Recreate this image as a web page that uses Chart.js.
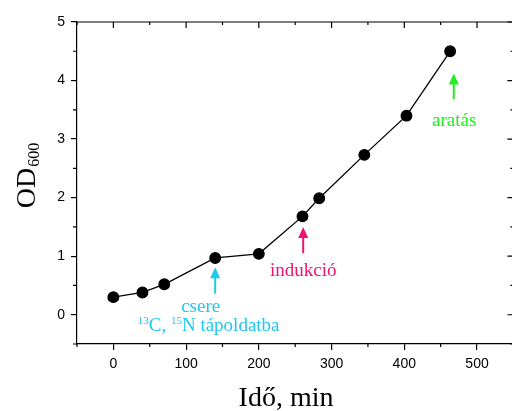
<!DOCTYPE html>
<html>
<head>
<meta charset="utf-8">
<script src="https://cdn.jsdelivr.net/npm/chart.js@4.4.0/dist/chart.umd.min.js"></script>
<style>
  html, body { margin: 0; padding: 0; background: #fff; overflow: hidden; }
</style>
</head>
<body>
<canvas id="myChart" width="520" height="411"></canvas>
<script>
// growth curve
const timeMin = [0, 40, 70, 140, 200, 260, 283, 345, 403, 463];
const od600 = [0.30, 0.38, 0.52, 0.97, 1.04, 1.68, 1.99, 2.73, 3.40, 4.50];

const xTicks = [0, 100, 200, 300, 400, 500];
const yTicks = [0, 1, 2, 3, 4, 5];
const xMinorTicks = [-50, 50, 150, 250, 350, 450, 550];
const yMinorTicks = [-0.5, 0.5, 1.5, 2.5, 3.5, 4.5];

// arrows: x, tip y, tail y (data units)
const arrowX = [140, 261, 468];
const arrowTip = [0.81, 1.50, 4.12];
const arrowTail = [0.36, 1.05, 3.68];
const arrowColors = ["#1ec8ee", "#ee1272", "#22ee22"];

const SERIF = "'Liberation Serif', 'Times New Roman', serif";
const SANS = "'Liberation Sans', Arial, sans-serif";

function drawArrow(ctx, x, yTip, yTail, color) {
  ctx.save();
  ctx.strokeStyle = color;
  ctx.fillStyle = color;
  ctx.lineWidth = 2;
  ctx.beginPath();
  ctx.moveTo(x, yTail);
  ctx.lineTo(x, yTip + 8);
  ctx.stroke();
  ctx.beginPath();
  ctx.moveTo(x, yTip);
  ctx.lineTo(x - 5, yTip + 11);
  ctx.lineTo(x + 5, yTip + 11);
  ctx.closePath();
  ctx.fill();
  ctx.restore();
}

// draws [text, isSuperscript] pieces starting at x
function drawRich(ctx, parts, x, y, size, color) {
  ctx.save();
  ctx.fillStyle = color;
  ctx.textBaseline = "alphabetic";
  ctx.textAlign = "left";
  parts.forEach(([t, sup]) => {
    const fs = sup ? Math.round(size * 0.6) : size;
    ctx.font = fs + "px " + SERIF;
    ctx.fillText(t, x, sup ? y - size * 0.38 : y);
    x += ctx.measureText(t).width;
  });
  ctx.restore();
}

function richWidth(ctx, parts, size) {
  let w = 0;
  parts.forEach(([t, sup]) => {
    ctx.font = (sup ? Math.round(size * 0.6) : size) + "px " + SERIF;
    w += ctx.measureText(t).width;
  });
  return w;
}

const framePlugin = {
  id: "frame",
  afterDraw(chart) {
    const { ctx, chartArea: a, scales: { x, y } } = chart;
    ctx.save();
    ctx.strokeStyle = "#000";
    ctx.lineWidth = 1.2;

    // top and right frame
    ctx.beginPath();
    ctx.moveTo(a.left, a.top);
    ctx.lineTo(a.right, a.top);
    ctx.lineTo(a.right, a.bottom);
    ctx.stroke();

    ctx.beginPath();
    xTicks.forEach((v) => {
      const px = x.getPixelForValue(v);
      ctx.moveTo(px, a.top);
      ctx.lineTo(px, a.top + 6);
    });
    xMinorTicks.forEach((v) => {
      const px = x.getPixelForValue(v);
      ctx.moveTo(px, a.top);
      ctx.lineTo(px, a.top + 3);
      ctx.moveTo(px, a.bottom);
      ctx.lineTo(px, a.bottom + 3);
    });
    yTicks.forEach((v) => {
      const py = y.getPixelForValue(v);
      ctx.moveTo(a.right, py);
      ctx.lineTo(a.right - 6, py);
    });
    yMinorTicks.forEach((v) => {
      const py = y.getPixelForValue(v);
      ctx.moveTo(a.right, py);
      ctx.lineTo(a.right - 3, py);
      ctx.moveTo(a.left, py);
      ctx.lineTo(a.left - 4, py);
    });
    ctx.stroke();
    ctx.restore();

    // annotations
    arrowX.forEach((v, i) => {
      drawArrow(ctx, x.getPixelForValue(v), y.getPixelForValue(arrowTip[i]),
        y.getPixelForValue(arrowTail[i]), arrowColors[i]);
    });

    ctx.save();
    ctx.textAlign = "center";
    ctx.textBaseline = "alphabetic";
    ctx.font = "19px " + SERIF;
    ctx.fillStyle = arrowColors[0];
    ctx.fillText("csere", x.getPixelForValue(120), y.getPixelForValue(0.045));
    ctx.fillStyle = arrowColors[1];
    ctx.fillText("indukció", x.getPixelForValue(261), y.getPixelForValue(0.67));
    ctx.fillStyle = arrowColors[2];
    ctx.fillText("aratás", x.getPixelForValue(468.5), y.getPixelForValue(3.23));
    ctx.restore();

    const medium = [["13", true], ["C, ", false], ["15", true], ["N tápoldatba", false]];
    const mw = richWidth(ctx, medium, 19);
    drawRich(ctx, medium, x.getPixelForValue(131) - mw / 2, y.getPixelForValue(-0.28), 19, arrowColors[0]);

    // axis titles
    ctx.save();
    ctx.fillStyle = "#000";
    ctx.textAlign = "center";
    ctx.textBaseline = "alphabetic";
    ctx.font = "28px " + SERIF;
    ctx.fillText("Idő, min", 286, 406);
    ctx.restore();

    ctx.save();
    ctx.translate(35, 176);
    ctx.rotate(-Math.PI / 2);
    ctx.font = "28px " + SERIF;
    const wOD = ctx.measureText("OD").width;
    ctx.font = "16px " + SERIF;
    const wSub = ctx.measureText("600").width;
    const x0 = -(wOD + wSub) / 2;
    ctx.fillStyle = "#000";
    ctx.textAlign = "left";
    ctx.font = "28px " + SERIF;
    ctx.fillText("OD", x0, 0);
    ctx.font = "16px " + SERIF;
    ctx.fillText("600", x0 + wOD + 1, 4);
    ctx.restore();
  },
};

new Chart("myChart", {
  type: "line",
  data: {
    labels: timeMin,
    datasets: [
      {
        data: timeMin.map((t, i) => ({ x: t, y: od600[i] })),
        borderColor: "#000",
        borderWidth: 1.3,
        backgroundColor: "#000",
        pointBackgroundColor: "#000",
        pointBorderColor: "#000",
        pointRadius: 5.3,
        tension: 0,
        fill: false,
      },
    ],
  },
  options: {
    responsive: false,
    animation: false,
    layout: { padding: { top: 22, right: 6, left: 0, bottom: 0 } },
    plugins: { legend: { display: false }, tooltip: { enabled: false } },
    scales: {
      x: {
        type: "linear",
        min: -50,
        max: 550,
        afterBuildTicks: (axis) => {
          axis.ticks = xTicks.map((v) => ({ value: v }));
        },
        afterFit: (axis) => {
          axis.height = 67;
        },
        grid: { drawOnChartArea: false, drawTicks: true, tickLength: 6, color: "#000", lineWidth: 1.2 },
        border: { display: true, color: "#000", width: 1.2 },
        ticks: { color: "#000", font: { family: SANS, size: 14 }, padding: 6, maxRotation: 0 },
      },
      y: {
        min: -0.5,
        max: 5,
        afterBuildTicks: (axis) => {
          axis.ticks = yTicks.map((v) => ({ value: v }));
        },
        afterFit: (axis) => {
          axis.width = 77;
        },
        grid: { drawOnChartArea: false, drawTicks: true, tickLength: 6, color: "#000", lineWidth: 1.2 },
        border: { display: true, color: "#000", width: 1.2 },
        ticks: { color: "#000", font: { family: SANS, size: 14 }, padding: 6 },
      },
    },
  },
  plugins: [framePlugin],
});
</script>
</body>
</html>
